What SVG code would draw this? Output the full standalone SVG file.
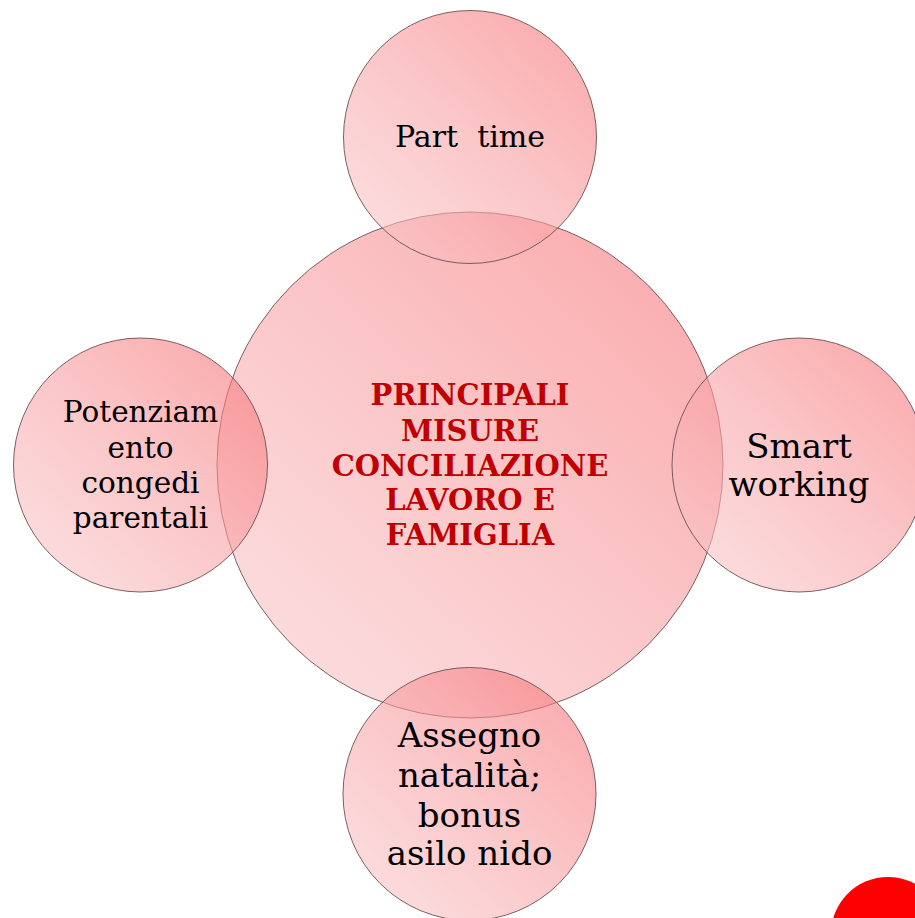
<svg xmlns="http://www.w3.org/2000/svg" width="915" height="918" viewBox="0 0 915 918">
<defs>
<linearGradient id="g" x1="0.15" y1="0.9" x2="0.9" y2="0.1">
<stop offset="0" stop-color="rgb(249,196,199)"/>
<stop offset="0.5" stop-color="rgb(248,160,163)"/>
<stop offset="1" stop-color="rgb(247,118,121)"/>
</linearGradient>
<style>
.c{fill:url(#g);fill-opacity:0.6;stroke:#6e5052;stroke-width:1;stroke-opacity:0.9}
.t{font-family:"DejaVu Serif","Liberation Serif",serif;fill:#000;text-anchor:middle}
.m{font-family:"DejaVu Serif","Liberation Serif",serif;fill:#C00000;font-weight:bold;text-anchor:middle;font-size:29px}
</style>
</defs>
<rect width="915" height="918" fill="#fff"/>
<g id="connectors"></g>
<g id="center">
<circle class="c" cx="470" cy="465" r="253"/>
<text class="m" x="470" y="405">PRINCIPALI</text>
<text class="m" x="470" y="441">MISURE</text>
<text class="m" x="470" y="476">CONCILIAZIONE</text>
<text class="m" x="470" y="510">LAVORO E</text>
<text class="m" x="470" y="545">FAMIGLIA</text>
</g>
<g id="part-time">
<circle class="c" cx="470" cy="137" r="126.5"/>
<text class="t" x="470" y="147" font-size="30" xml:space="preserve">Part  time</text>
</g>
<g id="congedi">
<circle class="c" cx="140.5" cy="465" r="127"/>
<text class="t" font-size="29.5"><tspan x="140.5" y="422">Potenziam</tspan><tspan x="140.5" y="458">ento</tspan><tspan x="140.5" y="493">congedi</tspan><tspan x="140.5" y="528">parentali</tspan></text>
</g>
<g id="smart-working">
<circle class="c" cx="799" cy="465" r="127"/>
<text class="t" font-size="34"><tspan x="799" y="458">Smart</tspan><tspan x="799" y="496">working</tspan></text>
</g>
<g id="assegno">
<circle class="c" cx="469.5" cy="794" r="126.5"/>
<text class="t" font-size="34"><tspan x="469.5" y="747">Assegno</tspan><tspan x="469.5" y="787">natalità;</tspan><tspan x="469.5" y="827">bonus</tspan><tspan x="469.5" y="865">asilo nido</tspan></text>
</g>
<circle cx="888" cy="934" r="57" fill="#FF0000"/>
</svg>
